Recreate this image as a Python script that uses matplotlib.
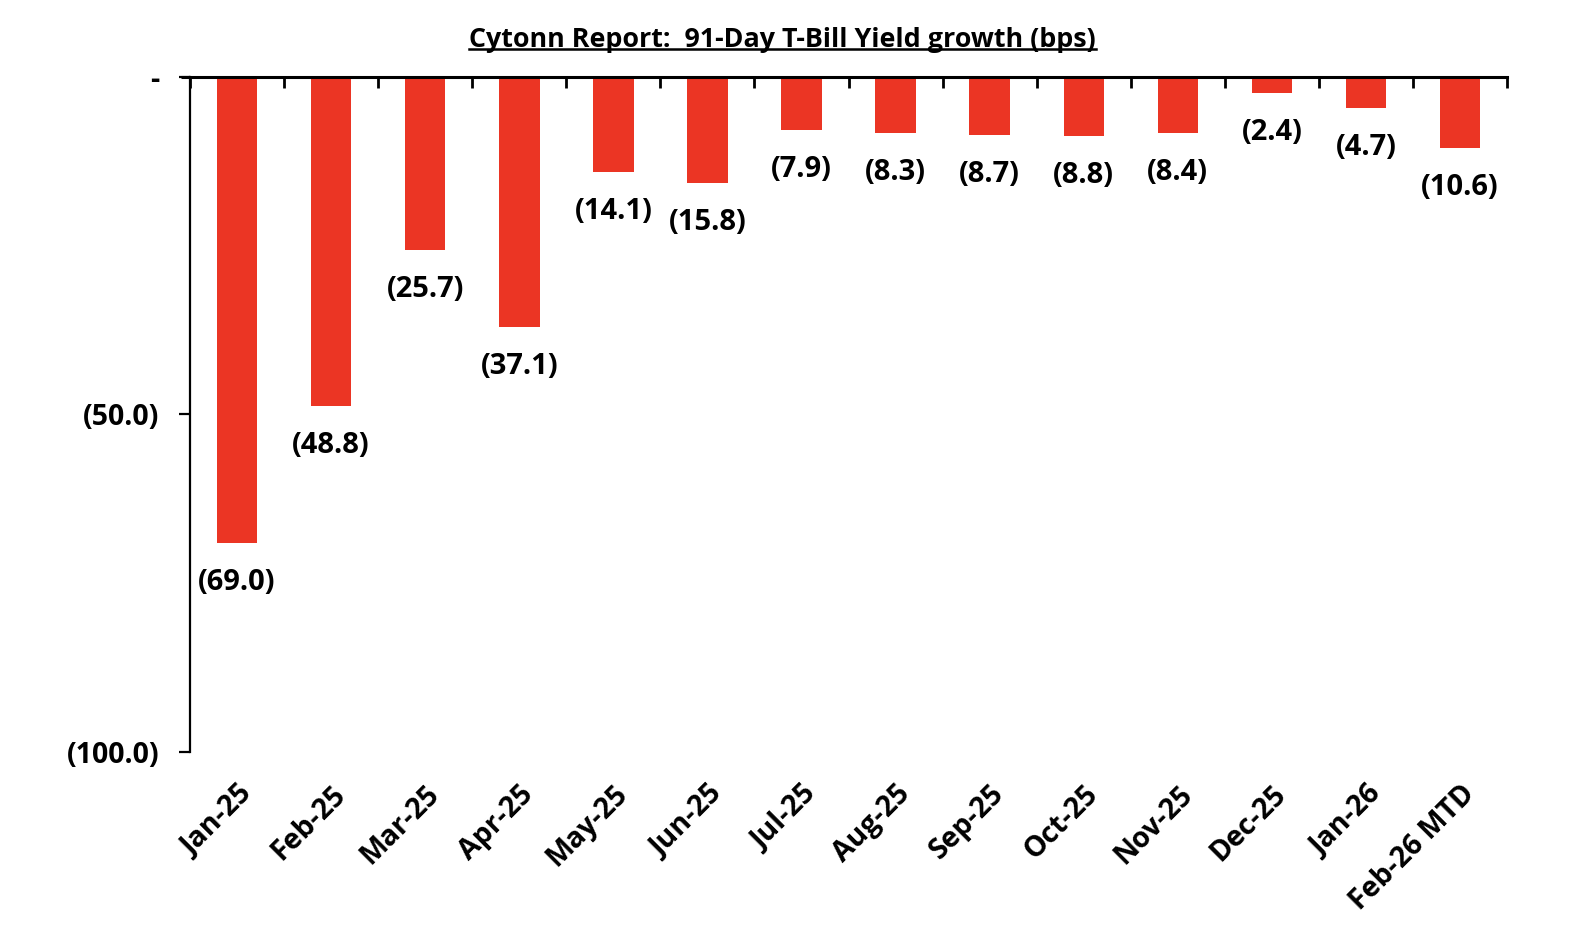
import matplotlib.pyplot as plt
import numpy as np
from matplotlib.lines import Line2D
from matplotlib.ticker import FixedLocator, FuncFormatter

months = ["Jan-25", "Feb-25", "Mar-25", "Apr-25", "May-25", "Jun-25", "Jul-25",
          "Aug-25", "Sep-25", "Oct-25", "Nov-25", "Dec-25", "Jan-26", "Feb-26 MTD"]
growth_bps = [-69.0, -48.8, -25.7, -37.1, -14.1, -15.8, -7.9,
              -8.3, -8.7, -8.8, -8.4, -2.4, -4.7, -10.6]
y_ticks = [0, -50, -100]

BAR_COLOR = "#EB3524"
FONT = ["Open Sans", "DejaVu Sans"]


def accounting(value: float, _pos=None) -> str:
    if value == 0:
        return "-"
    if value < 0:
        return f"({abs(value):.1f})"
    return f"{value:.1f}"


plt.rcParams["font.family"] = FONT
plt.rcParams["font.weight"] = "bold"

fig = plt.figure(figsize=(15.72, 9.36), dpi=100)
ax = fig.add_axes([0.1209, 0.1966, 0.8378, 0.7214])

x = np.arange(len(months))
bars = ax.bar(x, growth_bps, width=0.43, color=BAR_COLOR, zorder=2)

ax.set_xlim(-0.5, len(months) - 0.5)
ax.set_ylim(-100, 0)

for spine in ("right", "bottom"):
    ax.spines[spine].set_visible(False)
ax.spines["top"].set_linewidth(2.2)
ax.spines["left"].set_linewidth(1.6)
ax.spines["top"].set_zorder(3)
# zero line runs a little past the value axis, as in the source chart
ax.add_line(Line2D([-0.0065, 0], [1, 1], transform=ax.transAxes,
                   color="black", linewidth=2.2, clip_on=False,
                   solid_capstyle="butt"))

# y axis
ax.yaxis.set_major_locator(FixedLocator(y_ticks))
ax.yaxis.set_major_formatter(FuncFormatter(accounting))
ax.tick_params(axis="y", direction="out", length=8, width=1.6,
               labelsize=20.5, pad=14)

# category labels at the bottom, boundary ticks on the zero line
ax.set_xticks(x)
ax.set_xticklabels(months, rotation=45, ha="right", rotation_mode="anchor")
ax.tick_params(axis="x", which="major", length=0, labelsize=20.5, pad=20)
ax.xaxis.set_minor_locator(FixedLocator(np.arange(-0.5, len(months), 1.0)))
ax.tick_params(axis="x", which="minor", top=True, bottom=False,
               direction="in", length=8, width=2)
for lbl in ax.get_xticklabels() + ax.get_yticklabels():
    lbl.set_fontweight("bold")

for rect, val in zip(bars, growth_bps):
    ax.annotate(accounting(val), (rect.get_x() + rect.get_width() / 2, val),
                xytext=(0, -18), textcoords="offset points",
                ha="center", va="top", fontsize=21, fontweight="bold")

title = fig.text(0.4978, 0.9575, "Cytonn Report:  91-Day T-Bill Yield growth (bps)",
                 ha="center", va="center", fontsize=19.4, fontweight="bold")

# underline the title
fig.canvas.draw()
bb = title.get_window_extent().transformed(fig.transFigure.inverted())
fig.add_artist(Line2D([bb.x0, bb.x1], [bb.y0 + 0.004, bb.y0 + 0.004],
                      transform=fig.transFigure, color="black", linewidth=1.8))

fig.savefig("out.png", dpi=100)
